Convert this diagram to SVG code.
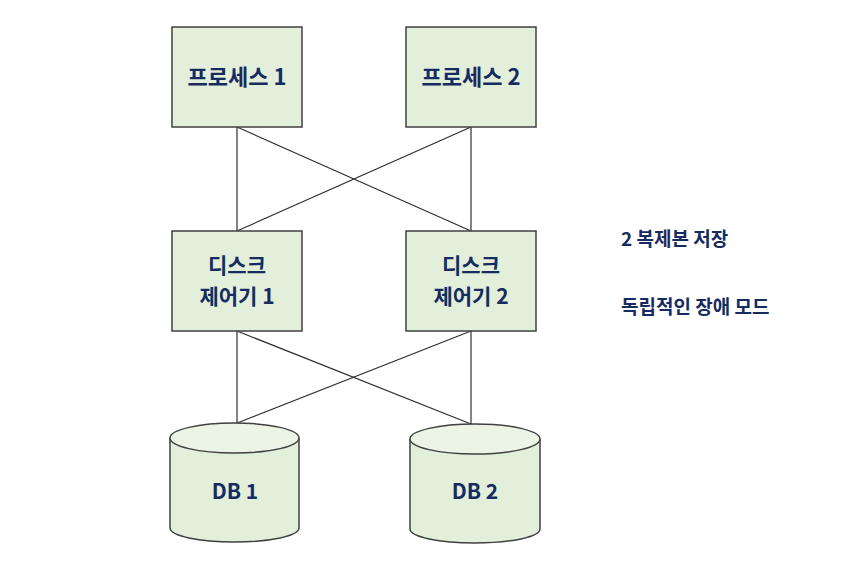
<svg xmlns="http://www.w3.org/2000/svg" width="859" height="583" viewBox="0 0 859 583">
<style>
.box{fill:#E2EFDA;stroke:#404040;stroke-width:1.5}
.top{fill:#ECF4E6;stroke:#404040;stroke-width:1.5}
.ln{stroke:#303030;stroke-width:1.2;fill:none}
.t{font-family:"Noto Sans CJK KR","Noto Sans",sans-serif;font-weight:bold;font-size:22px;fill:#172B5E;text-anchor:middle}
.d{font-size:21px}
.s{font-family:"Noto Sans CJK KR","Noto Sans",sans-serif;font-weight:bold;font-size:19px;fill:#172B5E}
</style>
<rect width="859" height="583" fill="#FFFFFF"/>
<g id="connectors">
<line class="ln" x1="237" y1="127" x2="237" y2="231"/>
<line class="ln" x1="471" y1="127" x2="471" y2="231"/>
<line class="ln" x1="237" y1="127" x2="471" y2="231"/>
<line class="ln" x1="471" y1="127" x2="237" y2="231"/>
<line class="ln" x1="237" y1="331" x2="237" y2="423"/>
<line class="ln" x1="471" y1="331" x2="471" y2="424"/>
<line class="ln" x1="237" y1="331" x2="471" y2="424"/>
<line class="ln" x1="471" y1="331" x2="237" y2="423"/>
</g>
<g id="process1">
<rect class="box" x="172" y="27" width="130" height="100"/>
<text class="t" x="237" y="85">프로세스 1</text>
</g>
<g id="process2">
<rect class="box" x="406" y="27" width="130" height="100"/>
<text class="t" x="471" y="85">프로세스 2</text>
</g>
<g id="controller1">
<rect class="box" x="172" y="231" width="130" height="100"/>
<text class="t d" x="237" y="273">디스크</text>
<text class="t d" x="237" y="304">제어기 1</text>
</g>
<g id="controller2">
<rect class="box" x="406" y="231" width="130" height="100"/>
<text class="t d" x="471" y="273">디스크</text>
<text class="t d" x="471" y="304">제어기 2</text>
</g>
<g id="db1">
<path class="box" d="M170,438 L170,528 A64.5,14 0 0 0 299,528 L299,438"/>
<ellipse class="top" cx="234.5" cy="438" rx="64.5" ry="15"/>
<text class="t d" x="235" y="499">DB 1</text>
</g>
<g id="db2">
<path class="box" d="M410,439 L410,529 A65,14 0 0 0 540,529 L540,439"/>
<ellipse class="top" cx="475" cy="439" rx="65" ry="15"/>
<text class="t d" x="475" y="499">DB 2</text>
</g>
<g id="notes">
<text class="s" x="621" y="246">2 복제본 저장</text>
<text class="s" x="621" y="314">독립적인 장애 모드</text>
</g>
</svg>
